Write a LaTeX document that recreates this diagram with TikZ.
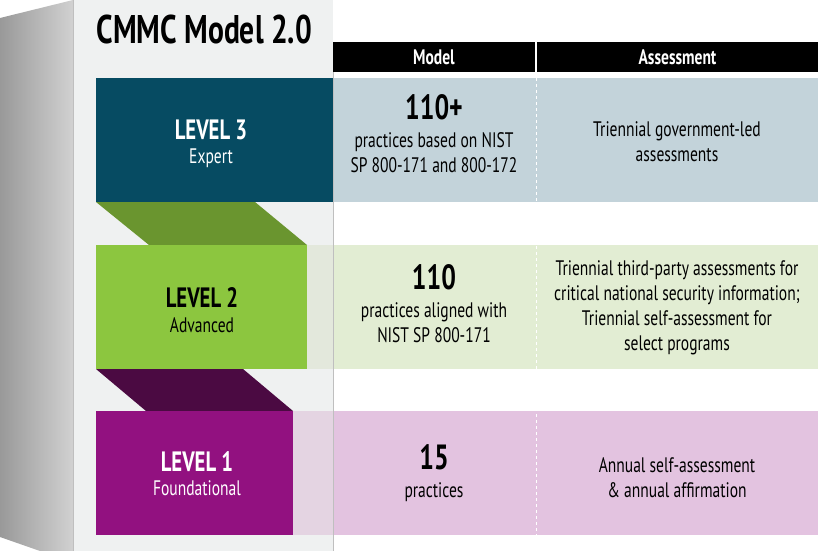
\documentclass[tikz,border=0pt]{standalone}
\usepackage{fontspec}
\setmainfont[FakeStretch=0.74]{PT Sans}
\usetikzlibrary{positioning}
\definecolor{tealdark}{HTML}{064B62}
\definecolor{teallight}{HTML}{C3D3DA}
\definecolor{greenmid}{HTML}{8CC63F}
\definecolor{greendark}{HTML}{6A952F}
\definecolor{greenlight}{HTML}{E2EDD3}
\definecolor{purplemid}{HTML}{921180}
\definecolor{purpledark}{HTML}{4B0A42}
\definecolor{purplelight}{HTML}{E3C3E0}
\definecolor{panel}{HTML}{EFF1F1}
\tikzset{
  hdr/.style={fill=black,text=white,font=\bfseries\fontsize{21}{21}\selectfont,inner sep=0pt},
  lvl/.style={font=\bfseries\fontsize{28}{28}\selectfont,align=center},
  txt/.style={font=\fontsize{21}{25}\selectfont,align=center},
  big/.style={font=\bfseries\fontsize{35}{35}\selectfont}
}
\begin{document}
\begin{tikzpicture}[x=1pt,y=-1pt]
\useasboundingbox (0,0) rectangle (832,551);
% wall and panel
\shade[left color=black!40,right color=black!18] (0,18) -- (73,0) -- (73,551) -- (40,551) -- (0,537) -- cycle;
\fill[panel] (73,0) rectangle (333,551);
\draw[black!25] (73,0) -- (73,551);
\node[anchor=west,font=\bfseries\fontsize{40}{40}\selectfont] (title) at (93,30) {CMMC Model 2.0};
% header
\node[hdr,minimum width=202pt,minimum height=30pt] (hmodel) at (434,57) {Model};
\node[hdr,minimum width=281pt,minimum height=30pt] (hassess) at (677.5,57) {Assessment};
% rows
\fill[teallight] (333,78) rectangle (818,202);
\fill[greenlight] (307,245) rectangle (818,369);
\fill[purplelight] (293,411) rectangle (818,535);
\draw[white,dashed,thick] (536,78) -- (536,535);
% ribbons
\fill[greendark] (96,202) -- (255,202) -- (307,245) -- (149,245) -- cycle;
\fill[purpledark] (96,369) -- (243,369) -- (293,411) -- (146,411) -- cycle;
% level boxes
\fill[tealdark] (96,78) rectangle (333,202);
\fill[greenmid] (96,245) rectangle (307,369);
\fill[purplemid] (96,411) rectangle (293,535);
\fill[black!10,opacity=.5] (307,245) rectangle (333,369);
\fill[black!10,opacity=.5] (293,411) rectangle (333,535);
\draw[black!25] (333,72) -- (333,551);
% level labels
\node[lvl,text=white] (l3) at (211,130) {LEVEL 3};
\node[txt,text=white,below=2pt of l3] (l3s) {Expert};
\node[lvl] (l2) at (202,298) {LEVEL 2};
\node[txt,below=2pt of l2] (l2s) {Advanced};
\node[lvl,text=white] (l1) at (197,462) {LEVEL 1};
\node[txt,text=white,below=2pt of l1] (l1s) {Foundational};
% model column
\node[big] (m3) at (434,107) {110+};
\node[txt,below=6pt of m3] (m3t) {practices based on NIST\\SP 800-171 and 800-172};
\node[big] (m2) at (434,277) {110};
\node[txt,below=6pt of m2] (m2t) {practices aligned with\\NIST SP 800-171};
\node[big] (m1) at (434,457) {15};
\node[txt,below=6pt of m1] (m1t) {practices};
% assessment column
\node[txt] (a3) at (677,142) {Triennial government-led\\assessments};
\node[txt] (a2) at (677,308) {Triennial third-party assessments for\\critical national security information;\\Triennial self-assessment for\\select programs};
\node[txt] (a1) at (677,478) {Annual self-assessment\\\& annual affirmation};
\end{tikzpicture}
\end{document}
